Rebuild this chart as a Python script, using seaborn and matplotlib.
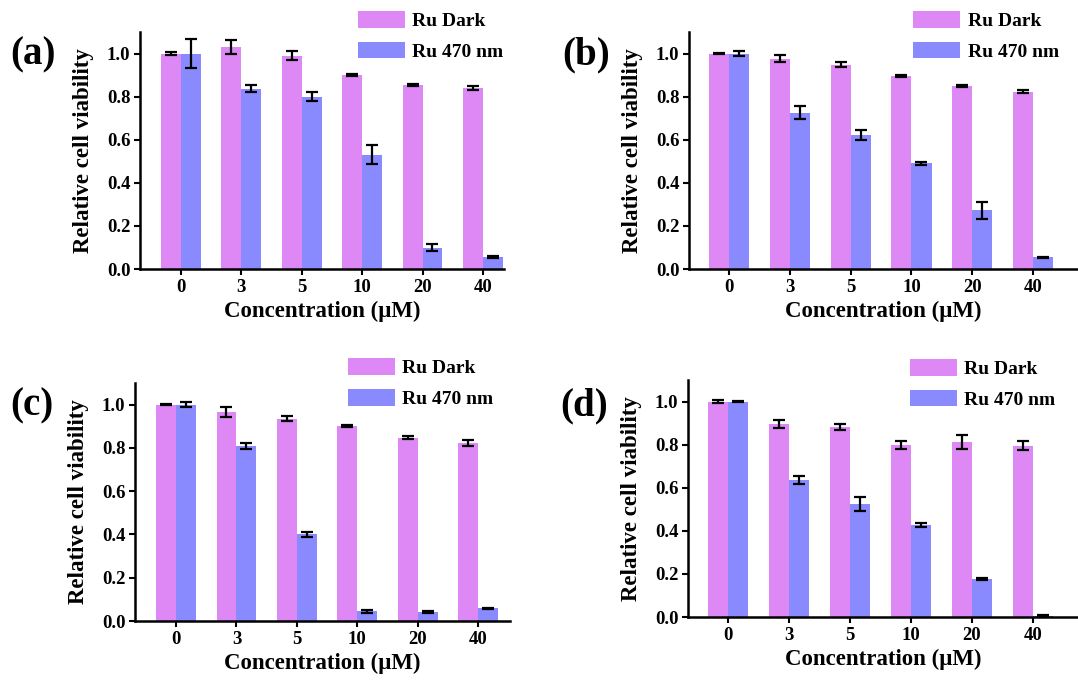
import numpy as np
import pandas as pd
import matplotlib
matplotlib.use("Agg")
import matplotlib.pyplot as plt
import seaborn as sns

# Data
conc = ["0", "3", "5", "10", "20", "40"]
groups = ["Ru Dark", "Ru 470 nm"]

dark_a = [1.00, 1.03, 0.99, 0.90, 0.855, 0.84]
dark_a_err = [0.005, 0.033, 0.021, 0.005, 0.004, 0.01]
light_a = [1.00, 0.837, 0.80, 0.53, 0.099, 0.057]
light_a_err = [0.066, 0.017, 0.02, 0.044, 0.017, 0.004]

dark_b = [1.00, 0.977, 0.949, 0.896, 0.848, 0.823]
dark_b_err = [0.003, 0.018, 0.012, 0.003, 0.004, 0.007]
light_b = [1.00, 0.726, 0.623, 0.49, 0.273, 0.054]
light_b_err = [0.012, 0.03, 0.022, 0.006, 0.039, 0.004]

dark_c = [1.00, 0.964, 0.935, 0.901, 0.847, 0.822]
dark_c_err = [0.002, 0.023, 0.012, 0.004, 0.006, 0.014]
light_c = [1.00, 0.809, 0.40, 0.045, 0.042, 0.059]
light_c_err = [0.012, 0.015, 0.01, 0.007, 0.003, 0.003]

dark_d = [1.00, 0.897, 0.882, 0.798, 0.812, 0.795]
dark_d_err = [0.008, 0.019, 0.012, 0.019, 0.033, 0.02]
light_d = [1.00, 0.636, 0.523, 0.428, 0.176, 0.006]
light_d_err = [0.003, 0.019, 0.033, 0.01, 0.004, 0.004]

colors = ["#DD88F5", "#8A8AFF"]

sns.set_style("ticks")
plt.rcParams["font.family"] = ["Liberation Serif", "DejaVu Serif"]
plt.rcParams["font.weight"] = "bold"
plt.rcParams["axes.labelweight"] = "bold"
for k in ["text.color", "axes.labelcolor", "xtick.color", "ytick.color", "axes.edgecolor"]:
    plt.rcParams[k] = "black"

W, H = 1078, 680
fig = plt.figure(figsize=(W / 100, H / 100), dpi=100)

# panel: (label, dark, dark_err, light, light_err, axes rect px [left, baseline, top, right], xlim, legend pos, label pos)
panels = [
    ("(a)", dark_a, dark_a_err, light_a, light_a_err, (140, 269, 32, 504), (-0.68, 5.35), (0.599, 1.089), (10, 55)),
    ("(b)", dark_b, dark_b_err, light_b, light_b_err, (689, 269, 32, 1078), (-0.66, 5.74), (0.576, 1.089), (562, 55)),
    ("(c)", dark_c, dark_c_err, light_c, light_c_err, (135, 621, 383, 510), (-0.68, 5.53), (0.568, 1.105), (10, 406)),
    ("(d)", dark_d, dark_d_err, light_d, light_d_err, (688, 617, 380, 1078), (-0.66, 5.74), (0.569, 1.089), (560, 406)),
]

for lab, dark, dark_err, light, light_err, box, xlim, legpos, labpos in panels:
    l, b, t, r = box
    ax = fig.add_axes([l / W, (H - b) / H, (r - l) / W, (b - t) / H])

    df = pd.DataFrame({
        "conc": conc * 2,
        "val": dark + light,
        "err": dark_err + light_err,
        "group": [groups[0]] * len(conc) + [groups[1]] * len(conc),
    })

    sns.barplot(data=df, x="conc", y="val", hue="group", order=conc, hue_order=groups,
                palette=colors, width=0.66, errorbar=None, saturation=1,
                linewidth=0, ax=ax)

    # error bars on top of each bar
    for cont, g in zip(ax.containers, groups):
        sub = df[df.group == g]
        xs = [p.get_x() + p.get_width() / 2 for p in cont.patches]
        ax.errorbar(xs, sub.val.values, yerr=sub.err.values, fmt="none",
                    ecolor="black", elinewidth=1.6, capsize=4, capthick=1.6)

    ax.set_xlim(*xlim)
    ax.set_ylim(0, 1.1)
    ax.set_yticks([0.0, 0.2, 0.4, 0.6, 0.8, 1.0])
    ax.set_yticklabels(["0.0", "0.2", "0.4", "0.6", "0.8", "1.0"])
    ax.set_xlabel("Concentration (μM)", fontsize=16.5, fontweight="bold", labelpad=4)
    ax.set_ylabel("Relative cell viability", fontsize=16.5, fontweight="bold", labelpad=9)
    ax.tick_params(axis="both", labelsize=13.5, width=1.5, length=4, pad=3)
    for tl in ax.get_xticklabels() + ax.get_yticklabels():
        tl.set_fontweight("bold")
    for s in ["left", "bottom"]:
        ax.spines[s].set_linewidth(1.8)
    sns.despine(ax=ax)

    handles, labels = ax.get_legend_handles_labels()
    ax.legend(handles, labels, loc="upper left", bbox_to_anchor=legpos, frameon=False,
              prop={"size": 14, "weight": "bold"}, handlelength=2.4, handleheight=0.95,
              labelspacing=0.6, handletextpad=0.4, borderpad=0, borderaxespad=0)

    fig.text(labpos[0] / W, 1 - labpos[1] / H, lab, fontsize=28, fontweight="bold",
             va="center", ha="left")

fig.savefig("out.png", dpi=100)
